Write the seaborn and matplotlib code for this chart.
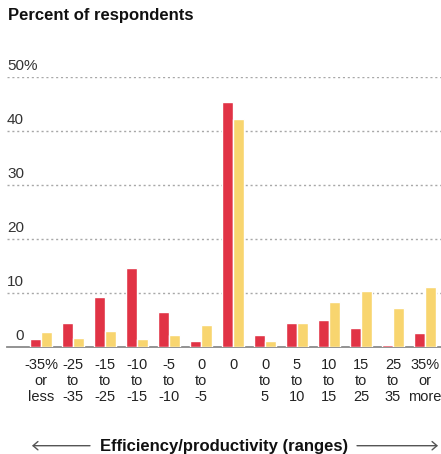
import matplotlib
matplotlib.use("Agg")
import matplotlib.pyplot as plt
from matplotlib.patches import FancyArrowPatch
from matplotlib.transforms import blended_transform_factory
import seaborn as sns
import pandas as pd

categories = ["-35%\nor\nless", "-25\nto\n-35", "-15\nto\n-25", "-10\nto\n-15",
              "-5\nto\n-10", "0\nto\n-5", "0", "0\nto\n5", "5\nto\n10",
              "10\nto\n15", "15\nto\n25", "25\nto\n35", "35%\nor\nmore"]
series_names = ["Series A", "Series B"]
series_a = [1.4, 4.3, 9.2, 14.5, 6.4, 1.1, 45.4, 2.1, 4.3, 4.9, 3.5, 0.4, 2.5]
series_b = [2.7, 1.7, 2.9, 1.4, 2.2, 4.1, 42.2, 1.0, 4.3, 8.2, 10.4, 7.2, 11.0]
ytick_vals = [0, 10, 20, 30, 40, 50]
ytick_labels = ["0", "10", "20", "30", "40", "50"]
title = "Percent of respondents"
xlabel = "Efficiency/productivity (ranges)"

df = pd.DataFrame({
    "range": categories * 2,
    "series": [series_names[0]] * len(categories) + [series_names[1]] * len(categories),
    "value": series_a + series_b,
})

sns.set_theme(style="white")
plt.rcParams["font.family"] = ["Liberation Sans", "DejaVu Sans"]

W, H = 441, 454
fig = plt.figure(figsize=(W / 100, H / 100), dpi=100)
ax_left, ax_right = 7, 441
y0_px, y50_px = 346.7, 76.7
ax = fig.add_axes([ax_left / W, 1 - y0_px / H, (ax_right - ax_left) / W, (y0_px - y50_px) / H])

sns.barplot(data=df, x="range", y="value", hue="series", order=categories,
            palette=["#E13345", "#F8D56F"], saturation=1, width=0.667, gap=0,
            errorbar=None, legend=False, ax=ax, zorder=3)

ax.set_xlim(-1.0625, 12.5)
ax.set_ylim(0, 50)
ax.set_xlabel("")
ax.set_ylabel("")

for s in ["top", "right", "left"]:
    ax.spines[s].set_visible(False)
ax.spines["bottom"].set_color("#8a8a8a")
ax.spines["bottom"].set_linewidth(1.3)
ax.spines["bottom"].set_zorder(2)

ax.set_yticks(ytick_vals[1:])
ax.set_yticklabels([])
ax.tick_params(axis="y", length=0)
ax.yaxis.grid(True, linestyle=(0, (1.5, 2)), color="#a8a8a8", linewidth=1)
ax.xaxis.grid(False)

ax.tick_params(axis="x", length=4, width=1, color="#8a8a8a", direction="out",
               pad=4, labelsize=10.5, labelcolor="#222222")

tr = blended_transform_factory(fig.transFigure, ax.transData)
for v, lab in zip(ytick_vals, ytick_labels):
    ax.annotate(lab, xy=(24 / W, v), xycoords=tr, xytext=(0, 3),
                textcoords="offset points", ha="right", va="bottom",
                fontsize=11, color="#333333")
    if v == ytick_vals[-1]:
        ax.annotate("%", xy=(24 / W, v), xycoords=tr, xytext=(0, 3),
                    textcoords="offset points", ha="left", va="bottom",
                    fontsize=11, color="#333333")

fig.text(8 / W, 1 - 20 / H, title, fontsize=12, fontweight="bold",
         color="#111111", ha="left", va="baseline")

fig.text(224 / W, 3.5 / H, xlabel, fontsize=12, fontweight="bold",
         color="#111111", ha="center", va="baseline")
ya = 1 - 445.7 / H
arrow_kw = dict(arrowstyle="->,head_length=0.35,head_width=0.3", mutation_scale=10,
                color="#555555", lw=1.0, shrinkA=0, shrinkB=0)
fig.add_artist(FancyArrowPatch((90 / W, ya), (32 / W, ya),
               transform=fig.transFigure, **arrow_kw))
fig.add_artist(FancyArrowPatch((357 / W, ya), (438 / W, ya),
               transform=fig.transFigure, **arrow_kw))

fig.savefig("out.png", dpi=100)
